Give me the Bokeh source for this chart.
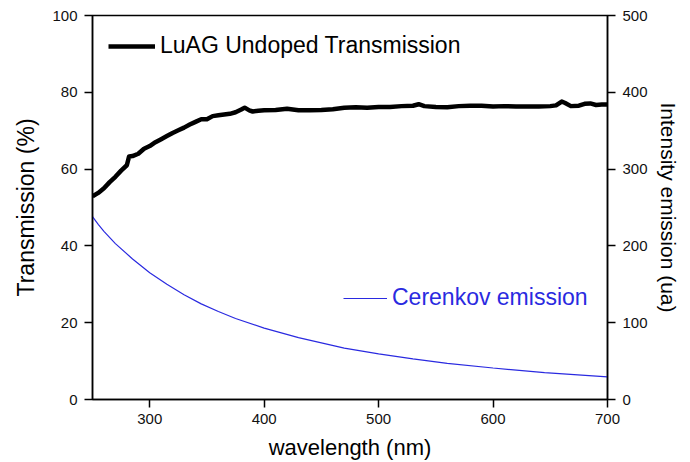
from bokeh.plotting import figure
from bokeh.models import Range1d, LinearAxis, Legend, LegendItem
from bokeh.embed import file_html
from bokeh.resources import INLINE

# Transmission of undoped LuAG (%), left axis
trans_wavelength = [250, 255, 260, 265, 270, 275, 280, 282, 285, 290, 295, 300, 305, 310,
                    315, 320, 325, 330, 335, 340, 345, 350, 355, 360, 365, 370, 375, 380,
                    383, 387, 390, 395, 400, 410, 420, 430, 440, 450, 460, 470, 480, 490,
                    500, 510, 520, 530, 535, 540, 550, 560, 570, 580, 590, 600, 610, 620,
                    630, 640, 650, 655, 660, 663, 668, 675, 680, 685, 690, 695, 700]
transmission = [52.9, 53.8, 55.0, 56.6, 58.0, 59.6, 61.0, 63.3, 63.4, 64.0, 65.3, 66.0, 67.0,
                67.8, 68.6, 69.4, 70.1, 70.8, 71.6, 72.3, 73.0, 73.0, 73.8, 74.0, 74.2, 74.4,
                74.8, 75.5, 76.0, 75.3, 75.0, 75.2, 75.3, 75.4, 75.7, 75.3, 75.3, 75.4, 75.6,
                76.0, 76.1, 76.0, 76.2, 76.2, 76.4, 76.5, 76.9, 76.4, 76.2, 76.1, 76.4, 76.5,
                76.5, 76.3, 76.4, 76.3, 76.3, 76.3, 76.4, 76.6, 77.6, 77.2, 76.4, 76.5, 77.0,
                77.1, 76.7, 76.8, 76.8]

# Cerenkov emission intensity (ua), right axis
cer_wavelength = [250, 255, 260, 270, 285, 300, 315, 330, 345, 360, 375, 400, 430, 470, 500,
                  530, 560, 600, 645, 700]
cerenkov = [238, 228, 219, 203, 183, 165, 150, 136.5, 124.5, 114.5, 105.5, 93, 80.5, 67,
            59.5, 53, 47, 41, 35, 29.5]

x_ticks = [300, 400, 500, 600, 700]
left_ticks = [0, 20, 40, 60, 80, 100]
right_ticks = [0, 100, 200, 300, 400, 500]

FONT = "Liberation Sans"
INK = "#111111"
BLUE = "#2a2ae0"

p = figure(width=690, height=462, output_backend="svg", toolbar_location=None,
           x_range=Range1d(250, 700), y_range=Range1d(0, 100),
           min_border_left=92, min_border_right=83, min_border_top=15,
           min_border_bottom=63)
p.extra_y_ranges = {"emission": Range1d(0, 500)}

p.xgrid.visible = False
p.ygrid.visible = False
p.outline_line_color = "black"
p.outline_line_width = 1.5
p.background_fill_color = "white"
p.border_fill_color = "white"

r_trans = p.line(trans_wavelength, transmission, line_color="black", line_width=4.5,
                 line_join="round")
r_cer = p.line(cer_wavelength, cerenkov, line_color=BLUE, line_width=1.2,
               y_range_name="emission")


def style_axis(ax, ticks, label, label_size, standoff, label_standoff=7):
    ax.ticker = ticks
    ax.axis_label = label
    ax.axis_label_text_font = FONT
    ax.axis_label_text_font_size = label_size
    ax.axis_label_text_font_style = "normal"
    ax.axis_label_text_color = "black"
    ax.axis_label_standoff = standoff
    ax.major_label_text_font = FONT
    ax.major_label_text_font_size = "15px"
    ax.major_label_text_color = INK
    ax.major_label_standoff = label_standoff
    ax.major_tick_out = 8
    ax.major_tick_in = 0
    ax.minor_tick_out = 0
    ax.minor_tick_in = 0
    ax.axis_line_color = "black"
    ax.axis_line_width = 1.5
    ax.major_tick_line_color = "black"
    ax.major_tick_line_width = 1.5


style_axis(p.xaxis[0], x_ticks, "wavelength (nm)", "22px", 8, label_standoff=6)
style_axis(p.yaxis[0], left_ticks, "Transmission (%)", "23px", 10)

# Right-hand axis for the emission intensity, title reading top to bottom
right_axis = LinearAxis(y_range_name="emission")
style_axis(right_axis, right_ticks, "Intensity emission (ua)", "21px", 6)
right_axis.axis_label_orientation = "vertical"
p.add_layout(right_axis, "right")

# Two separate one-item legends placed inside the frame
leg_t = Legend(items=[LegendItem(label="LuAG Undoped Transmission", renderers=[r_trans])],
               location=(16, 340), orientation="vertical")
leg_c = Legend(items=[LegendItem(label="Cerenkov emission", renderers=[r_cer])],
               location=(251, 88), orientation="vertical")
for leg, color, gw in ((leg_t, "black", 47), (leg_c, BLUE, 44)):
    leg.label_text_font = FONT
    leg.label_text_font_size = "23px"
    leg.label_text_color = color
    leg.glyph_width = gw
    leg.glyph_height = 22
    leg.label_standoff = 5
    leg.padding = 0
    leg.margin = 0
    leg.spacing = 0
    leg.border_line_alpha = 0
    leg.background_fill_alpha = 0
    p.add_layout(leg)

open("out.html", "w").write(file_html(p, INLINE))
